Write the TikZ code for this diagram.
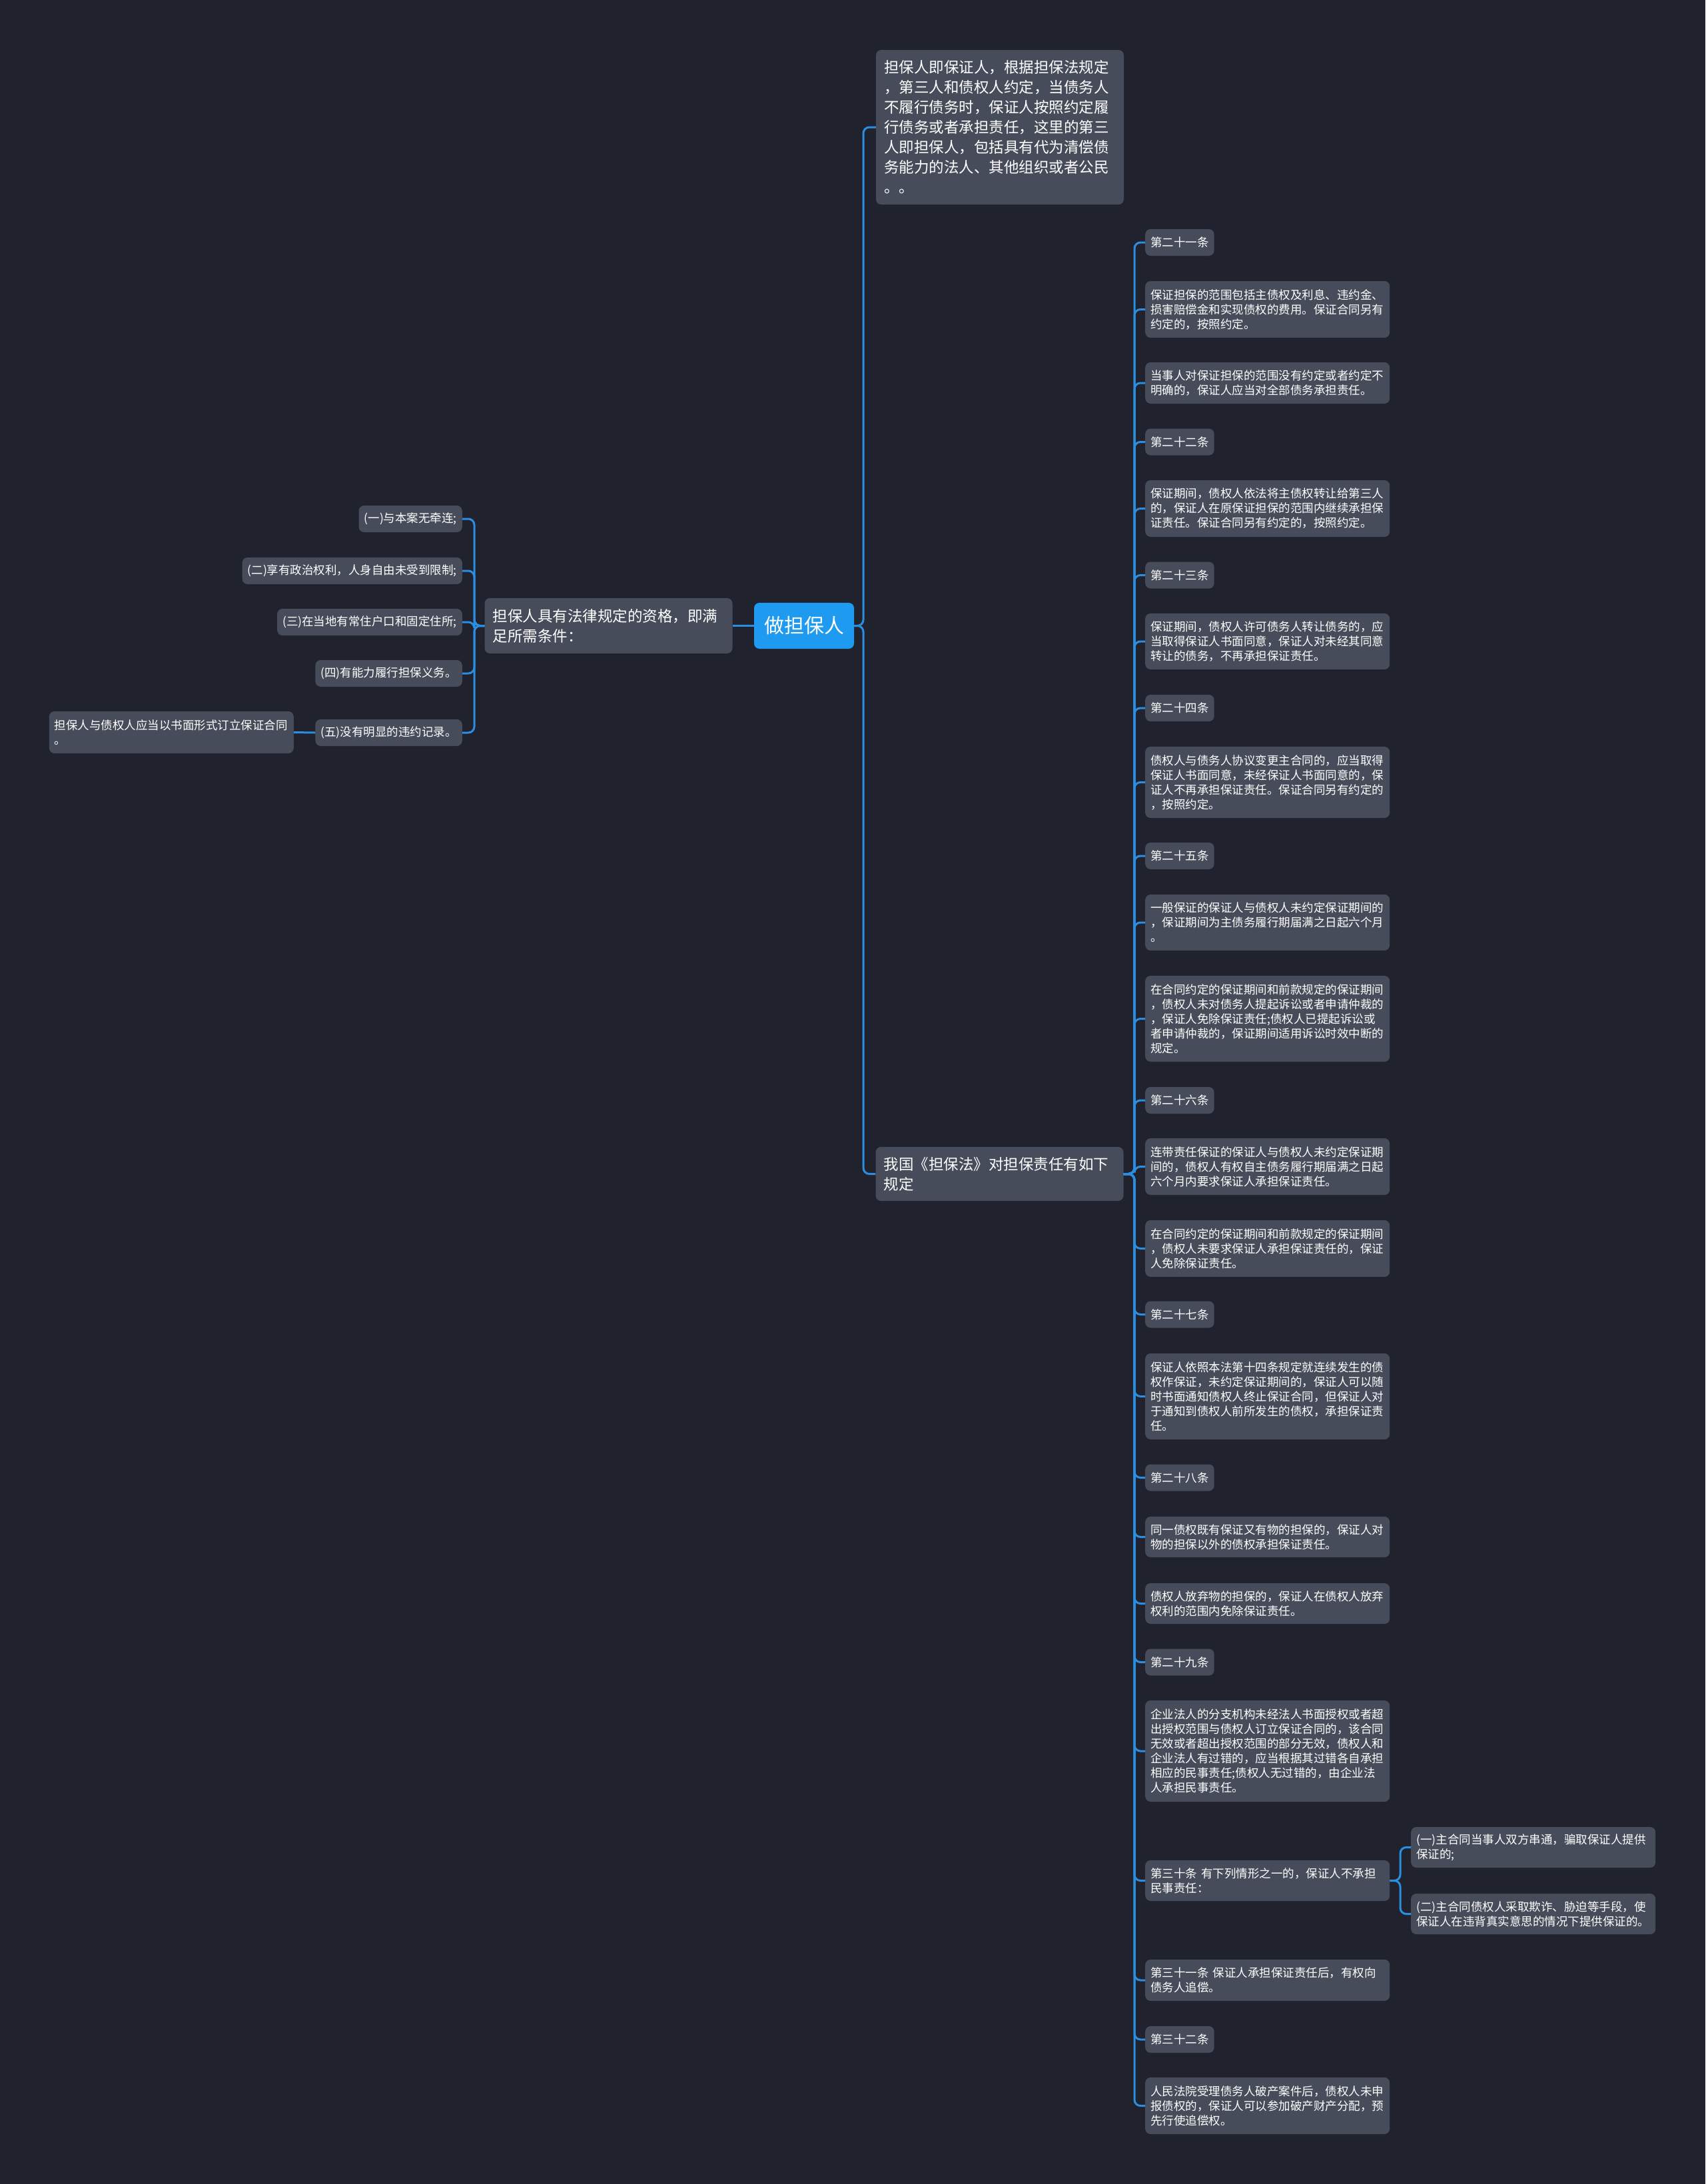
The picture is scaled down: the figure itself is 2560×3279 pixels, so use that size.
\documentclass[tikz,border=0pt]{standalone}
\usepackage{fontspec}
\setmainfont{Noto Sans CJK SC}
\usepackage{tikz}

\definecolor{bgdark}{HTML}{20232E}
\definecolor{boxgray}{HTML}{474C5A}
\definecolor{rootblue}{HTML}{1E9BF0}
\definecolor{linkblue}{HTML}{2B8EE0}

\begin{document}
\begin{tikzpicture}[
    x=1pt, y=-1pt,
    every node/.style={rectangle, rounded corners=8pt, fill=boxgray, text=white, inner xsep=8pt, inner ysep=0pt},
    rootbox/.style={fill=rootblue, inner xsep=15pt, minimum height=69pt, font={\fontsize{30pt}{36pt}\selectfont}},
    branch/.style={inner xsep=12pt, text width=348pt, align=left, font={\fontsize{22.5pt}{30pt}\selectfont}},
    clause/.style={anchor=west, minimum height=40pt, font={\fontsize{17.5pt}{22pt}\selectfont}},
    leaf/.style={clause, text width=351pt, align=left},
    item/.style={clause, anchor=east},
    link/.style={draw=linkblue, line width=3pt, rounded corners=9pt}
]

% Background
\fill[bgdark] (0,0) rectangle (2560,3279);
\useasboundingbox (0,0) rectangle (2560,3279);

% Root
\node[rootbox] (root) at (1207,939.5) {做担保人};

% Main branches
\node[branch, minimum height=232pt] (guar) at (1501,191) {担保人即保证人，根据担保法规定\\，第三人和债权人约定，当债务人\\不履行债务时，保证人按照约定履\\行债务或者承担责任，这里的第三\\人即担保人，包括具有代为清偿债\\务能力的法人、其他组织或者公民\\。。};
\node[branch, minimum height=81pt] (law) at (1500.5,1762.5) {我国《担保法》对担保责任有如下\\规定};
\node[branch, minimum height=83pt] (cond) at (913.5,939.5) {担保人具有法律规定的资格，即满\\足所需条件：};

% Conditions (left side)
\node[item] (c1) at (694,779) {(一)与本案无牵连;};
\node[item] (c2) at (694,857) {(二)享有政治权利，人身自由未受到限制;};
\node[item] (c3) at (694,934) {(三)在当地有常住户口和固定住所;};
\node[item] (c4) at (694,1011) {(四)有能力履行担保义务。};
\node[item] (c5) at (694,1100) {(五)没有明显的违约记录。};
\node[leaf, anchor=east, minimum height=63pt] (note) at (441,1099.5) {担保人与债权人应当以书面形式订立保证合同\\。};

% Articles (right side)
\node[clause] (a21) at (1719,364) {第二十一条};
\node[leaf, minimum height=85pt] (a21s1) at (1719,464.5) {保证担保的范围包括主债权及利息、违约金、\\损害赔偿金和实现债权的费用。保证合同另有\\约定的，按照约定。};
\node[leaf, minimum height=62pt] (a21s2) at (1719,575) {当事人对保证担保的范围没有约定或者约定不\\明确的，保证人应当对全部债务承担责任。};
\node[clause] (a22) at (1719,663.5) {第二十二条};
\node[leaf, minimum height=85pt] (a22s1) at (1719,763.5) {保证期间，债权人依法将主债权转让给第三人\\的，保证人在原保证担保的范围内继续承担保\\证责任。保证合同另有约定的，按照约定。};
\node[clause] (a23) at (1719,863.5) {第二十三条};
\node[leaf, minimum height=84pt] (a23s1) at (1719,963) {保证期间，债权人许可债务人转让债务的，应\\当取得保证人书面同意，保证人对未经其同意\\转让的债务，不再承担保证责任。};
\node[clause] (a24) at (1719,1063) {第二十四条};
\node[leaf, minimum height=107pt] (a24s1) at (1719,1174.5) {债权人与债务人协议变更主合同的，应当取得\\保证人书面同意，未经保证人书面同意的，保\\证人不再承担保证责任。保证合同另有约定的\\，按照约定。};
\node[clause] (a25) at (1719,1285) {第二十五条};
\node[leaf, minimum height=84pt] (a25s1) at (1719,1385) {一般保证的保证人与债权人未约定保证期间的\\，保证期间为主债务履行期届满之日起六个月\\。};
\node[leaf, minimum height=129pt] (a25s2) at (1719,1529.5) {在合同约定的保证期间和前款规定的保证期间\\，债权人未对债务人提起诉讼或者申请仲裁的\\，保证人免除保证责任;债权人已提起诉讼或\\者申请仲裁的，保证期间适用诉讼时效中断的\\规定。};
\node[clause] (a26) at (1719,1652) {第二十六条};
\node[leaf, minimum height=85pt] (a26s1) at (1719,1751.5) {连带责任保证的保证人与债权人未约定保证期\\间的，债权人有权自主债务履行期届满之日起\\六个月内要求保证人承担保证责任。};
\node[leaf, minimum height=85pt] (a26s2) at (1719,1874.5) {在合同约定的保证期间和前款规定的保证期间\\，债权人未要求保证人承担保证责任的，保证\\人免除保证责任。};
\node[clause] (a27) at (1719,1973.5) {第二十七条};
\node[leaf, minimum height=129pt] (a27s1) at (1719,2096.5) {保证人依照本法第十四条规定就连续发生的债\\权作保证，未约定保证期间的，保证人可以随\\时书面通知债权人终止保证合同，但保证人对\\于通知到债权人前所发生的债权，承担保证责\\任。};
\node[clause] (a28) at (1719,2218.5) {第二十八条};
\node[leaf, minimum height=61pt] (a28s1) at (1719,2307.5) {同一债权既有保证又有物的担保的，保证人对\\物的担保以外的债权承担保证责任。};
\node[leaf, minimum height=61pt] (a28s2) at (1719,2407.5) {债权人放弃物的担保的，保证人在债权人放弃\\权利的范围内免除保证责任。};
\node[clause] (a29) at (1719,2495.5) {第二十九条};
\node[leaf, minimum height=152pt] (a29s1) at (1719,2629) {企业法人的分支机构未经法人书面授权或者超\\出授权范围与债权人订立保证合同的，该合同\\无效或者超出授权范围的部分无效，债权人和\\企业法人有过错的，应当根据其过错各自承担\\相应的民事责任;债权人无过错的，由企业法\\人承担民事责任。};
\node[leaf, minimum height=61pt] (a30) at (1719,2823.5) {第三十条 有下列情形之一的，保证人不承担\\民事责任：};
\node[leaf, minimum height=62pt] (a31) at (1719,2973) {第三十一条 保证人承担保证责任后，有权向\\债务人追偿。};
\node[clause] (a32) at (1719,3062) {第三十二条};
\node[leaf, minimum height=85pt] (a32s1) at (1719,3161.5) {人民法院受理债务人破产案件后，债权人未申\\报债权的，保证人可以参加破产财产分配，预\\先行使追偿权。};

% Cases of article 30
\node[leaf, minimum height=61pt] (a30i) at (2118,2773.5) {(一)主合同当事人双方串通，骗取保证人提供\\保证的;};
\node[leaf, minimum height=61pt] (a30ii) at (2118,2873.5) {(二)主合同债权人采取欺诈、胁迫等手段，使\\保证人在违背真实意思的情况下提供保证的。};

% Spines
\coordinate (mspine) at (1296,0);
\coordinate (lspine) at (712,0);
\coordinate (rspine) at (1703,0);
\coordinate (sspine) at (2102,0);

% Connections from root
\draw[link] (root.east) -- (root.east -| mspine) |- (guar.west);
\draw[link] (root.east) -- (root.east -| mspine) |- (law.west);
\draw[link] (root.west) -- (cond.east);

% Connections to conditions
\draw[link] (cond.west) -- (cond.west -| lspine) |- (c1.east);
\draw[link] (cond.west) -- (cond.west -| lspine) |- (c2.east);
\draw[link] (cond.west) -- (cond.west -| lspine) |- (c3.east);
\draw[link] (cond.west) -- (cond.west -| lspine) |- (c4.east);
\draw[link] (cond.west) -- (cond.west -| lspine) |- (c5.east);
\draw[link] (c5.west) -- (note.east);

% Connections to articles
\draw[link] (law.east) -- (law.east -| rspine) |- (a21.west);
\draw[link] (law.east) -- (law.east -| rspine) |- (a21s1.west);
\draw[link] (law.east) -- (law.east -| rspine) |- (a21s2.west);
\draw[link] (law.east) -- (law.east -| rspine) |- (a22.west);
\draw[link] (law.east) -- (law.east -| rspine) |- (a22s1.west);
\draw[link] (law.east) -- (law.east -| rspine) |- (a23.west);
\draw[link] (law.east) -- (law.east -| rspine) |- (a23s1.west);
\draw[link] (law.east) -- (law.east -| rspine) |- (a24.west);
\draw[link] (law.east) -- (law.east -| rspine) |- (a24s1.west);
\draw[link] (law.east) -- (law.east -| rspine) |- (a25.west);
\draw[link] (law.east) -- (law.east -| rspine) |- (a25s1.west);
\draw[link] (law.east) -- (law.east -| rspine) |- (a25s2.west);
\draw[link] (law.east) -- (law.east -| rspine) |- (a26.west);
\draw[link] (law.east) -- (law.east -| rspine) |- (a26s1.west);
\draw[link] (law.east) -- (law.east -| rspine) |- (a26s2.west);
\draw[link] (law.east) -- (law.east -| rspine) |- (a27.west);
\draw[link] (law.east) -- (law.east -| rspine) |- (a27s1.west);
\draw[link] (law.east) -- (law.east -| rspine) |- (a28.west);
\draw[link] (law.east) -- (law.east -| rspine) |- (a28s1.west);
\draw[link] (law.east) -- (law.east -| rspine) |- (a28s2.west);
\draw[link] (law.east) -- (law.east -| rspine) |- (a29.west);
\draw[link] (law.east) -- (law.east -| rspine) |- (a29s1.west);
\draw[link] (law.east) -- (law.east -| rspine) |- (a30.west);
\draw[link] (law.east) -- (law.east -| rspine) |- (a31.west);
\draw[link] (law.east) -- (law.east -| rspine) |- (a32.west);
\draw[link] (law.east) -- (law.east -| rspine) |- (a32s1.west);

% Connections to cases
\draw[link] (a30.east) -- (a30.east -| sspine) |- (a30i.west);
\draw[link] (a30.east) -- (a30.east -| sspine) |- (a30ii.west);

\end{tikzpicture}
\end{document}
